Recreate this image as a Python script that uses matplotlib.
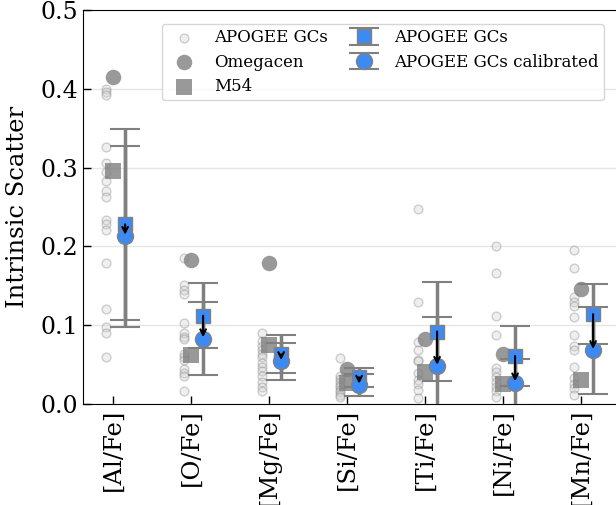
import numpy as np
import matplotlib
matplotlib.use('Agg')
import matplotlib.pyplot as plt

plt.rcParams['font.family'] = 'DejaVu Serif'

elements = ['[Al/Fe]', '[O/Fe]', '[Mg/Fe]', '[Si/Fe]', '[Ti/Fe]', '[Ni/Fe]', '[Mn/Fe]']

# scatter of individual clusters, one list per element
gc_al = [0.400, 0.396, 0.392, 0.326, 0.306, 0.294, 0.283, 0.270, 0.263, 0.233, 0.228, 0.221, 0.179, 0.121, 0.098, 0.090, 0.060]
gc_o = [0.185, 0.151, 0.145, 0.140, 0.103, 0.090, 0.085, 0.082, 0.064, 0.060, 0.056, 0.045, 0.039, 0.035, 0.016]
gc_mg = [0.090, 0.080, 0.074, 0.068, 0.064, 0.060, 0.052, 0.047, 0.042, 0.035, 0.028, 0.022, 0.017]
gc_si = [0.059, 0.036, 0.032, 0.028, 0.024, 0.021, 0.018, 0.015, 0.012, 0.009]
gc_ti = [0.248, 0.129, 0.079, 0.069, 0.056, 0.054, 0.039, 0.030, 0.026, 0.018, 0.007]
gc_ni = [0.200, 0.166, 0.112, 0.087, 0.046, 0.040, 0.034, 0.028, 0.022, 0.016, 0.009]
gc_mn = [0.196, 0.173, 0.136, 0.130, 0.124, 0.111, 0.087, 0.073, 0.069, 0.047, 0.033, 0.026, 0.020, 0.011]
gc_all = [gc_al, gc_o, gc_mg, gc_si, gc_ti, gc_ni, gc_mn]

omegacen = [0.415, 0.183, 0.179, 0.044, 0.082, 0.063, 0.146]
m54 = [0.296, 0.062, 0.075, 0.027, 0.041, 0.026, 0.030]

apogee = [0.228, 0.112, 0.063, 0.034, 0.092, 0.061, 0.114]
apogee_err = [0.121, 0.041, 0.024, 0.012, 0.063, 0.038, 0.038]
calib = [0.213, 0.083, 0.054, 0.024, 0.048, 0.027, 0.068]
calib_err = [0.115, 0.046, 0.024, 0.014, 0.063, 0.030, 0.055]

blue = '#3d8bf2'
x = np.arange(len(elements))

fig = plt.figure(figsize=(6.16, 5.05), dpi=100)
ax = fig.add_axes([83/616, 101/505, 560/616, 394/505])

for i, vals in enumerate(gc_all):
    ax.scatter([x[i] - 0.1] * len(vals), vals, s=40, facecolor='lightgray',
               edgecolor='gray', alpha=0.35, zorder=3,
               label='APOGEE GCs' if i == 0 else None)

ax.scatter(x, omegacen, s=125, marker='o', color='grey', alpha=0.8, lw=0, zorder=4, label='Omegacen')
ax.scatter(x, m54, s=125, marker='s', color='grey', alpha=0.8, lw=0, zorder=4, label='M54')

ax.errorbar(x + 0.15, apogee, yerr=apogee_err, fmt='s', ms=10.5, color=blue, mec='grey',
            ecolor='grey', elinewidth=2.5, capsize=11, capthick=1.5, zorder=5,
            label='APOGEE GCs')
ax.errorbar(x + 0.15, calib, yerr=calib_err, fmt='o', ms=11.5, color=blue, mec='grey',
            ecolor='grey', elinewidth=2.5, capsize=11, capthick=1.5, zorder=5,
            label='APOGEE GCs calibrated')

for i in range(len(x)):
    ax.annotate('', xy=(x[i] + 0.15, calib[i]), xytext=(x[i] + 0.15, apogee[i]),
                arrowprops=dict(arrowstyle='->', color='k', lw=1.5,
                                shrinkA=0, shrinkB=1), zorder=6)

ax.set_xlim(-0.39, 6.79)
ax.set_ylim(0, 0.5)
ax.set_xticks(x)
ax.set_xticklabels(elements, rotation=90, fontsize=17.5)
ax.set_yticks(np.arange(0, 0.51, 0.1))
ax.set_yticklabels(['0.0', '0.1', '0.2', '0.3', '0.4', '0.5'], fontsize=17)
ax.tick_params(direction='in', length=6, width=1)
ax.set_ylabel('Intrinsic Scatter', fontsize=17.5, labelpad=8)
ax.yaxis.grid(True, color='#e6e6e6', lw=1)
ax.set_axisbelow(True)

ax.legend(ncol=2, fontsize=12, loc='upper right', bbox_to_anchor=(612/616, 1 - 16/505),
          bbox_transform=fig.transFigure, handletextpad=0.8, columnspacing=1.2,
          borderpad=0.3, labelspacing=0.45)

fig.savefig('out.png', dpi=100)
